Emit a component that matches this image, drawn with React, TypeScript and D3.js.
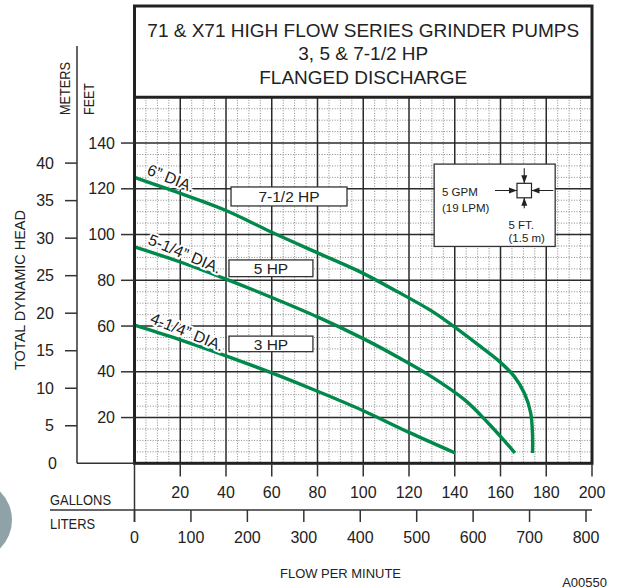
import React from 'react';
import * as d3 from 'd3';

// ---------- data ----------
const titleLines = ['71 & X71 HIGH FLOW SERIES GRINDER PUMPS', '3, 5 & 7-1/2 HP', 'FLANGED DISCHARGE'];
const gallonTicks = [20, 40, 60, 80, 100, 120, 140, 160, 180, 200];
const literTicks = [0, 100, 200, 300, 400, 500, 600, 700, 800];
const feetTicks = [20, 40, 60, 80, 100, 120, 140];
const meterTicks = [5, 10, 15, 20, 25, 30, 35, 40];

// 6" DIA. impeller (7-1/2 HP)
const dia6Gpm = [0, 10, 20, 40, 60, 80, 98, 115, 130, 140, 150, 159, 166, 170.5, 173.2, 174, 174];
const dia6Head = [125, 121.5, 118, 110.5, 101, 92, 84, 75, 66.5, 59.5, 52, 45, 38, 30.5, 22, 12, 4.5];
// 5-1/4" DIA. impeller (5 HP)
const dia514Gpm = [0, 20, 40, 60, 80, 100, 115, 130, 144.5, 155, 162, 166.3];
const dia514Head = [94.6, 88, 80.5, 72.5, 64, 54.5, 46.5, 37.8, 27.6, 17.2, 9.5, 4.5];
// 4-1/4" DIA. impeller (3 HP)
const dia414Gpm = [0, 20, 40, 60, 80, 100, 120, 140.2];
const dia414Head = [60.4, 54, 47, 39.5, 31.5, 23, 13.5, 4.5];

const curveNames = ['6” DIA.', '5-1/4” DIA.', '4-1/4” DIA.'];
const hpLabels = ['7-1/2 HP', '5 HP', '3 HP'];

const FONT = "'Liberation Sans', Arial, Helvetica, sans-serif";
const GREEN = '#00894b';
const INK = '#222';

export default function App() {
  const x = d3.scaleLinear().domain([0, 200]).range([134.5, 592]);
  const y = d3.scaleLinear().domain([0, 160]).range([463.3, 97.3]);
  const xL = d3.scaleLinear().domain([0, 800]).range([134.5, 586]);
  const FT_PER_M = 3.28084;

  const line = d3
    .line<[number, number]>()
    .x((d) => x(d[0]))
    .y((d) => y(d[1]))
    .curve(d3.curveCatmullRom.alpha(0.5));

  const series = [
    { gpm: dia6Gpm, head: dia6Head },
    { gpm: dia514Gpm, head: dia514Head },
    { gpm: dia414Gpm, head: dia414Head },
  ];

  const minorX = d3.range(5, 200, 5).filter((v) => v % 20 !== 0);
  const minorY = d3.range(5, 160, 5).filter((v) => v % 20 !== 0);
  const majorX = d3.range(20, 200, 20);
  const majorY = d3.range(20, 160, 20);

  const left = x(0), right = x(200), top = y(160), bottom = y(0);
  const titleTop = 6;

  // curve label anchors in data space: [gpm, head, rotation]
  const curveLabelPos: [number, number, number][] = [
    [5, 126.5, 22],
    [5.5, 96, 23],
    [6.5, 61.5, 22],
  ];
  // HP box extents in data space: [gpm0, gpm1, head0 (top), head1 (bottom)]
  const hpBoxes: [number, number, number, number][] = [
    [42.2, 92.9, 120.8, 112.5],
    [41.3, 78, 88.9, 81.6],
    [41.3, 78, 55.6, 48.8],
  ];
  // legend box extent in data space
  const leg = { g0: 131, g1: 183.9, h0: 130.8, h1: 94.8 };
  const lx0 = x(leg.g0), lx1 = x(leg.g1), ly0 = y(leg.h0), ly1 = y(leg.h1);
  const sq = { x: 517, y: 183.3, s: 14.5 };
  const cx = sq.x + sq.s / 2, cy = sq.y + sq.s / 2;

  const arrow = (tx: number, ty: number, dx: number, dy: number) => {
    const len = 8, w = 3;
    const bx = tx - dx * len, by = ty - dy * len;
    const px = -dy * w, py = dx * w;
    return `M${tx},${ty}L${bx + px},${by + py}L${bx - px},${by - py}Z`;
  };

  return (
    <svg
      width={620}
      height={588}
      viewBox="0 0 620 588"
      style={{ position: 'absolute', left: 0, top: 0, background: '#fff' }}
      fontFamily={FONT}
    >
      <rect x={0} y={0} width={620} height={588} fill="#fff" />
      {/* decorative gray disc at the left edge */}
      <circle cx={-28} cy={520} r={40} fill="#8ea2a8" />

      {/* title box */}
      <rect x={left} y={titleTop} width={right - left} height={top - titleTop} fill="#fff" />
      {titleLines.map((t, i) => (
        <text
          key={t}
          x={(left + right) / 2}
          y={30 + i * 23.5}
          textAnchor="middle"
          dominantBaseline="central"
          fontSize={19}
          fill={INK}
        >
          {t}
        </text>
      ))}

      {/* minor grid */}
      <g stroke="#7a7a7a" strokeWidth={0.9} strokeDasharray="1,1.6">
        {minorX.map((v) => (
          <line key={'mx' + v} x1={x(v)} x2={x(v)} y1={top} y2={bottom} />
        ))}
        {minorY.map((v) => (
          <line key={'my' + v} x1={left} x2={right} y1={y(v)} y2={y(v)} />
        ))}
      </g>
      {/* major grid */}
      <g stroke="#2a2a2a" strokeWidth={1.5}>
        {majorX.map((v) => (
          <line key={'Mx' + v} x1={x(v)} x2={x(v)} y1={top} y2={bottom} />
        ))}
        {majorY.map((v) => (
          <line key={'My' + v} x1={left} x2={right} y1={y(v)} y2={y(v)} />
        ))}
      </g>

      {/* pump curves */}
      {series.map((s, i) => (
        <path
          key={'c' + i}
          d={line(s.gpm.map((g, j) => [g, s.head[j]] as [number, number])) || ''}
          fill="none"
          stroke={GREEN}
          strokeWidth={3.4}
          strokeLinecap="butt"
        />
      ))}

      {/* curve labels */}
      {curveNames.map((n, i) => {
        const [g, h, r] = curveLabelPos[i];
        return (
          <text
            key={n}
            transform={`translate(${x(g)},${y(h)}) rotate(${r})`}
            fontSize={16}
            fill={INK}
            stroke="#fff"
            strokeWidth={4}
            paintOrder="stroke"
            strokeLinejoin="round"
          >
            {n}
          </text>
        );
      })}

      {/* HP boxes */}
      {hpLabels.map((t, i) => {
        const [g0, g1, h0, h1] = hpBoxes[i];
        return (
          <g key={t}>
            <rect
              x={x(g0)}
              y={y(h0)}
              width={x(g1) - x(g0)}
              height={y(h1) - y(h0)}
              fill="#fff"
              stroke="#333"
              strokeWidth={1.3}
            />
            <text
              x={(x(g0) + x(g1)) / 2}
              y={(y(h0) + y(h1)) / 2 + 0.5}
              textAnchor="middle"
              dominantBaseline="central"
              fontSize={15.5}
              fill={INK}
            >
              {t}
            </text>
          </g>
        );
      })}

      {/* legend box */}
      <rect x={lx0} y={ly0} width={lx1 - lx0} height={ly1 - ly0} fill="#fff" stroke="#333" strokeWidth={1.3} />
      <text x={442} y={191.7} dominantBaseline="central" fontSize={11.5} fill={INK}>5 GPM</text>
      <text x={442} y={208.3} dominantBaseline="central" fontSize={11.5} fill={INK}>(19 LPM)</text>
      <text x={508.5} y={225} dominantBaseline="central" fontSize={11.5} fill={INK}>5 FT.</text>
      <text x={508.5} y={238} dominantBaseline="central" fontSize={11.5} fill={INK}>(1.5 m)</text>
      <g stroke="#222" strokeWidth={1.1}>
        <line x1={495} x2={553.3} y1={cy} y2={cy} />
        <line x1={cx} x2={cx} y1={168.3} y2={208.3} />
      </g>
      <rect x={sq.x} y={sq.y} width={sq.s} height={sq.s} fill="#fff" stroke="#222" strokeWidth={1.2} />
      <g fill="#222">
        <path d={arrow(sq.x, cy, 1, 0)} />
        <path d={arrow(sq.x + sq.s, cy, -1, 0)} />
        <path d={arrow(cx, sq.y, 0, 1)} />
        <path d={arrow(cx, sq.y + sq.s, 0, -1)} />
      </g>

      {/* frame */}
      <g fill="none" stroke="#222" strokeWidth={3}>
        <rect x={left} y={titleTop} width={right - left} height={bottom - titleTop} />
        <line x1={left} x2={right} y1={top} y2={top} />
      </g>

      {/* left axes */}
      <g stroke="#333" strokeWidth={1.5}>
        <line x1={77} x2={77} y1={46} y2={bottom} />
        <line x1={77} x2={left} y1={bottom} y2={bottom} />
        {feetTicks.map((v) => (
          <line key={'ft' + v} x1={121} x2={left} y1={y(v)} y2={y(v)} />
        ))}
        {meterTicks.map((v) => (
          <line key={'m' + v} x1={65} x2={77} y1={y(v * FT_PER_M)} y2={y(v * FT_PER_M)} />
        ))}
      </g>
      <g fontSize={16} fill={INK} textAnchor="end" dominantBaseline="central">
        {feetTicks.map((v) => (
          <text key={'ftl' + v} x={115} y={y(v)}>{v}</text>
        ))}
        {meterTicks.map((v) => (
          <text key={'ml' + v} x={54} y={y(v * FT_PER_M)}>{v}</text>
        ))}
        <text x={57} y={y(0)}>0</text>
      </g>
      <text
        transform={`translate(65,88.5) rotate(-90)`}
        textAnchor="middle"
        dominantBaseline="central"
        fontSize={14}
        textLength={53}
        lengthAdjust="spacingAndGlyphs"
        fill={INK}
      >
        METERS
      </text>
      <text
        transform={`translate(89,99) rotate(-90)`}
        textAnchor="middle"
        dominantBaseline="central"
        fontSize={14}
        textLength={32}
        lengthAdjust="spacingAndGlyphs"
        fill={INK}
      >
        FEET
      </text>
      <text
        transform={`translate(20,290) rotate(-90)`}
        textAnchor="middle"
        dominantBaseline="central"
        fontSize={14}
        textLength={160}
        lengthAdjust="spacingAndGlyphs"
        fill={INK}
      >
        TOTAL DYNAMIC HEAD
      </text>

      {/* bottom axes */}
      <g stroke="#333" strokeWidth={1.5}>
        {gallonTicks.map((v) => (
          <line key={'gt' + v} x1={x(v)} x2={x(v)} y1={bottom} y2={476.5} />
        ))}
        <line x1={left} x2={left} y1={bottom} y2={522} />
        <line x1={50} x2={right} y1={510} y2={510} />
        {literTicks.map((v) => (
          <line key={'lt' + v} x1={xL(v)} x2={xL(v)} y1={510} y2={522} />
        ))}
      </g>
      <g fontSize={16} fill={INK} textAnchor="middle" dominantBaseline="central">
        {gallonTicks.map((v) => (
          <text key={'gl' + v} x={x(v)} y={492}>{v}</text>
        ))}
        {literTicks.map((v) => (
          <text key={'ll' + v} x={xL(v)} y={537}>{v}</text>
        ))}
      </g>
      <text x={50} y={499} dominantBaseline="central" fontSize={15} textLength={61} lengthAdjust="spacingAndGlyphs" fill={INK}>
        GALLONS
      </text>
      <text x={50} y={523.5} dominantBaseline="central" fontSize={14.5} textLength={45} lengthAdjust="spacingAndGlyphs" fill={INK}>
        LITERS
      </text>
      <text x={340.5} y={573} textAnchor="middle" dominantBaseline="central" fontSize={13.5} textLength={121} lengthAdjust="spacingAndGlyphs" fill={INK}>
        FLOW PER MINUTE
      </text>
      <text x={607} y={582} textAnchor="end" dominantBaseline="central" fontSize={13} fill={INK}>
        A00550
      </text>
    </svg>
  );
}
